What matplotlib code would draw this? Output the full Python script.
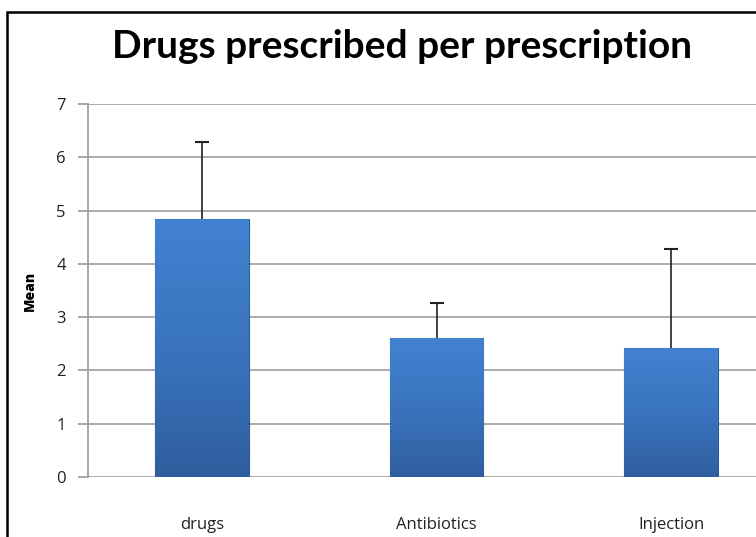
import numpy as np
import matplotlib
matplotlib.use("Agg")
from matplotlib import pyplot as plt
from matplotlib.patches import Rectangle
from matplotlib.colors import LinearSegmentedColormap

categories = ["drugs", "Antibiotics", "Injection"]
means = [4.85, 2.60, 2.42]
sds = [1.43, 0.67, 1.86]
yticks = [0, 1, 2, 3, 4, 5, 6, 7]

fig = plt.figure(figsize=(7.56, 5.37), dpi=100)
# axes goes past the right edge, the original picture is cropped there
ax = fig.add_axes([88 / 756, 1 - 477 / 537, 697 / 756, 373 / 537])

x = np.arange(len(categories))
bars = ax.bar(x, means, width=0.40, color="#3C78C4", edgecolor="#2B5C9C",
              linewidth=0.8, zorder=3)

# soft vertical gradient inside each bar
cmap = LinearSegmentedColormap.from_list("blu", ["#2F5E9E", "#3A74BF", "#4282D0"])
grad = np.linspace(0, 1, 256).reshape(-1, 1)
for b in bars:
    x0, w, h = b.get_x(), b.get_width(), b.get_height()
    im = ax.imshow(grad, cmap=cmap, aspect="auto", origin="lower",
                   extent=[x0, x0 + w, 0, h], zorder=3.5)
    im.set_clip_path(b)

# plus-only error bars like excel
_, caps, _ = ax.errorbar(x, means, yerr=[np.zeros(len(sds)), sds], fmt="none",
                         ecolor="#222222", elinewidth=1.2, capsize=5,
                         capthick=1.5, zorder=4)
caps[0].set_visible(False)

ax.set_xlim(-0.485, 2.485)
ax.set_ylim(0, 7)
ax.set_yticks(yticks)
ax.yaxis.grid(True, color="#A6A6A6", linewidth=1.3, zorder=0)
ax.set_axisbelow(True)

for s in ["top", "right", "bottom"]:
    ax.spines[s].set_visible(False)
ax.spines["left"].set_color("#A0A0A0")
ax.spines["left"].set_linewidth(1.3)

ax.tick_params(axis="y", length=7, width=1.3, color="#A0A0A0",
               labelsize=12, labelcolor="#222222", pad=9)
ax.tick_params(axis="x", length=0, labelsize=12, labelcolor="#222222", pad=29)
ax.set_xticks(x)
ax.set_xticklabels(categories, family="Open Sans")
for t in ax.get_yticklabels():
    t.set_family("Open Sans")

ax.set_ylabel("Mean", fontsize=10, fontweight="heavy", labelpad=14,
              family="Open Sans")

fig.text(402 / 756, 1 - 46 / 537, "Drugs prescribed per prescription",
         ha="center", va="center", fontsize=28, fontweight="bold",
         family="Lato")

# outer frame, only left and top show in the cropped picture
fig.patches.append(Rectangle((7 / 756, -0.1), 1.2, 1.1 - 12 / 537,
                             transform=fig.transFigure, fill=False,
                             edgecolor="black", linewidth=1.8))

fig.savefig("out.png", dpi=100)
